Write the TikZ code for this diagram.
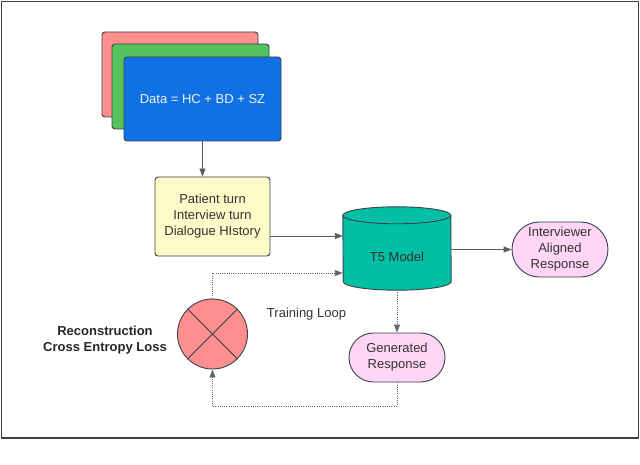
\documentclass[tikz,border=0pt]{standalone}
\usepackage{fontspec}
\setmainfont{Liberation Sans}
\usetikzlibrary{arrows.meta,calc}
\definecolor{cardred}{HTML}{FF8F8F}
\definecolor{cardgreen}{HTML}{56C25E}
\definecolor{cardblue}{HTML}{1071E5}
\definecolor{boxyellow}{HTML}{FFFBC9}
\definecolor{teal5}{HTML}{00BFA5}
\definecolor{pinkbox}{HTML}{FFD6F6}
\definecolor{edge}{HTML}{3A414A}
\definecolor{txt}{HTML}{333333}
\begin{document}
\begin{tikzpicture}[x=1pt,y=-1pt,
  every node/.style={font=\fontsize{13}{16}\selectfont, text=txt, align=center},
  card/.style={draw=edge, line width=0.9pt, rounded corners=3pt, inner sep=0pt},
  stadium/.style={draw=edge, line width=0.9pt, fill=pinkbox, inner sep=0pt},
  arr/.style={draw=edge!85, line width=0.9pt, -{Triangle[length=8pt,width=6pt]}},
  dotarr/.style={draw=edge!80, line width=0.9pt, dash pattern=on 1pt off 1.2pt, -{Triangle[length=8pt,width=6pt]}},
  dotline/.style={draw=edge!80, line width=0.9pt, dash pattern=on 1pt off 1.2pt}
]
\useasboundingbox (0,0) rectangle (640,465);
\draw[draw=edge, line width=1.4pt] (1.5,1.5) rectangle (638.5,438);

% stacked data cards
\node[card, fill=cardred, minimum width=156pt, minimum height=85pt] (red) at (180,74.5) {};
\node[card, fill=cardgreen, minimum width=157pt, minimum height=85pt] (green) at (190.5,86.5) {};
\node[card, fill=cardblue, minimum width=157pt, minimum height=84pt, text=white!94!black] (blue) at (202.5,99) {Data = HC + BD + SZ};

% yellow input box
\node[card, fill=boxyellow, minimum width=115pt, minimum height=79pt] (inp) at (212.5,216.5)
  {Patient turn\\Interview turn\\Dialogue HIstory};

% T5 cylinder
\node[minimum width=108pt, minimum height=83pt, inner sep=0pt] (t5) at (397,248.5) {};
\fill[teal5] (t5.north west) ++(0,8.5) arc[x radius=54pt, y radius=8.5pt, start angle=180, end angle=0]
  -- ($(t5.south east)+(0,-8.5)$) arc[x radius=54pt, y radius=8.5pt, start angle=0, end angle=-180] -- cycle;
\draw[edge, line width=0.9pt] ($(t5.north west)+(0,8.5)$) arc[x radius=54pt, y radius=8.5pt, start angle=180, end angle=0]
  -- ($(t5.south east)+(0,-8.5)$) arc[x radius=54pt, y radius=8.5pt, start angle=0, end angle=-180] -- cycle;
\draw[edge, line width=0.9pt] ($(t5.north west)+(0,8.5)$) arc[x radius=54pt, y radius=8.5pt, start angle=180, end angle=360];
\node (t5label) at (397,257) {T5 Model};

% output stadiums
\node[stadium, rounded corners=27.5pt, minimum width=96pt, minimum height=55pt] (iar) at (560,249.5)
  {Interviewer\\Aligned\\Response};
\node[stadium, rounded corners=24.5pt, minimum width=96pt, minimum height=49pt] (gen) at (397,357.5)
  {Generated\\Response};

% loss circle
\node[circle, draw=edge, line width=0.9pt, fill=cardred, minimum size=70pt, inner sep=0pt] (loss) at (212.5,334) {};
\draw[edge, line width=0.8pt] (loss.north west) -- (loss.south east);
\draw[edge, line width=0.8pt] (loss.north east) -- (loss.south west);

% labels
\node (tl) at (306.5,314.5) {Training Loop};
\node[font=\fontsize{13}{16}\selectfont\bfseries, text=black!85] (rl) at (105,340.5)
  {Reconstruction\\Cross Entropy Loss};

% connectors
\draw[arr] (blue.south) -- (blue.south |- inp.north);
\draw[arr] (inp.east |- 0,236) -- (t5.west |- 0,236);
\draw[arr] (t5.east |- iar.west) -- (iar.west);
\draw[dotarr] (t5.south) -- (gen.north);
\draw[dotarr] (gen.south) -- ++(0,24) -| (loss.south);
\draw[dotarr] (loss.north) |- (t5.west |- 0,273);
\end{tikzpicture}
\end{document}
